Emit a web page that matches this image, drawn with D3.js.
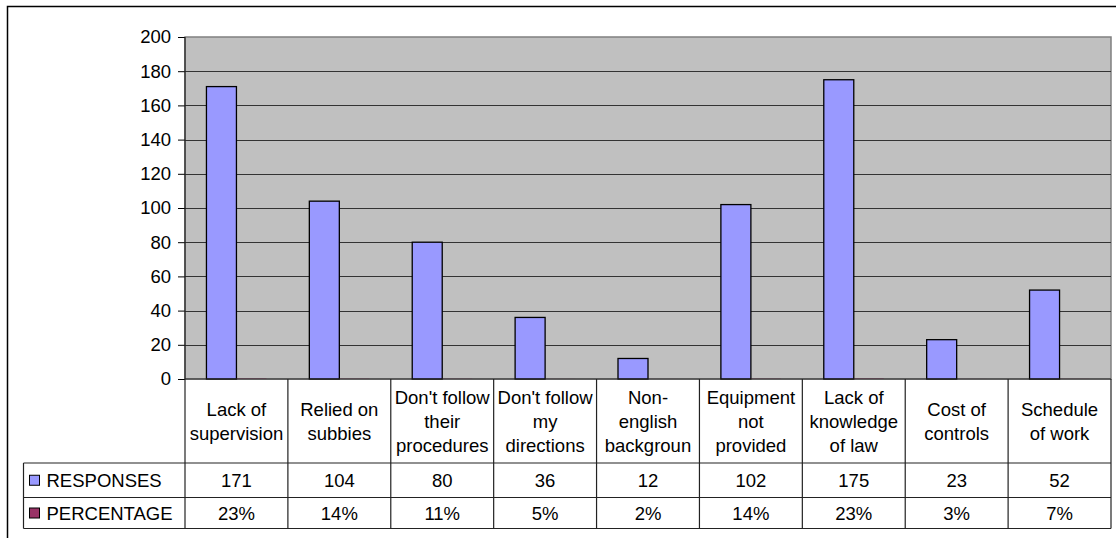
<!DOCTYPE html>
<html>
<head>
<meta charset="utf-8">
<script src="https://cdn.jsdelivr.net/npm/d3@7"></script>
<style>
  body { margin: 0; background: #fff; }
  svg { display: block; font-family: "Liberation Sans", Arial, sans-serif; }
  .axis text { font-size: 18.5px; fill: #000; }
  .axis line, .axis path { stroke: #000; }
</style>
</head>
<body>
<svg width="1116" height="538"></svg>
<script>
// chart data
const categories = [
  ["Lack of", "supervision"],
  ["Relied on", "subbies"],
  ["Don't follow", "their", "procedures"],
  ["Don't follow", "my", "directions"],
  ["Non-", "english", "backgroun"],
  ["Equipment", "not", "provided"],
  ["Lack of", "knowledge", "of law"],
  ["Cost of", "controls"],
  ["Schedule", "of work"]
];
const responses = [171, 104, 80, 36, 12, 102, 175, 23, 52];
const percentage = [0.23, 0.14, 0.11, 0.05, 0.02, 0.14, 0.23, 0.03, 0.07];
const yTicks = [0, 20, 40, 60, 80, 100, 120, 140, 160, 180, 200];
const seriesNames = ["RESPONSES", "PERCENTAGE"];
const seriesColors = ["#9999FF", "#993366"];

const fontSize = "18.5px";
const svg = d3.select("svg");

// outer frame
svg.append("rect")
  .attr("x", 7.5).attr("y", 6.5)
  .attr("width", 1130).attr("height", 560)
  .attr("fill", "#fff")
  .attr("stroke", "#000")
  .attr("stroke-width", 1.5);

const plotLeft = 185, plotRight = 1111, plotTop = 37, base = 379;
const rowCat = 463, rowResp = 497.5, rowPct = 528.5, legendLeft = 23.5;

const x = d3.scaleBand()
  .domain(d3.range(categories.length))
  .range([plotLeft, plotRight]);

const xSub = d3.scaleBand()
  .domain([0, 1])
  .range([0, x.bandwidth()])
  .paddingOuter(0.715);

const y = d3.scaleLinear()
  .domain([0, 200])
  .range([base, plotTop]);

// plot area
svg.append("rect")
  .attr("x", plotLeft).attr("y", plotTop)
  .attr("width", plotRight - plotLeft).attr("height", base - plotTop)
  .attr("fill", "#C0C0C0")
  .attr("stroke", "#808080")
  .attr("stroke-width", 1.5);

// grid
svg.append("g")
  .selectAll("line")
  .data(yTicks.filter(d => d > 0 && d < 200))
  .join("line")
  .attr("x1", plotLeft).attr("x2", plotRight)
  .attr("y1", d => Math.round(y(d)) + 0.5)
  .attr("y2", d => Math.round(y(d)) + 0.5)
  .attr("stroke", "#333")
  .attr("stroke-width", 1.2);

// bars
const series = [responses, percentage];
series.forEach((vals, s) => {
  svg.append("g")
    .selectAll("rect")
    .data(vals)
    .join("rect")
    .attr("x", (d, i) => x(i) + xSub(s))
    .attr("y", d => y(d))
    .attr("width", xSub.bandwidth())
    .attr("height", d => base - y(d))
    .attr("fill", seriesColors[s])
    .attr("stroke", "#000")
    .attr("stroke-width", s === 0 ? 1.3 : 0);
});

// y axis
svg.append("g")
  .attr("class", "axis")
  .attr("transform", `translate(${plotLeft},0)`)
  .call(d3.axisLeft(y).tickValues(yTicks).tickSize(7).tickSizeOuter(0).tickPadding(7))
  .call(g => g.select(".domain").remove());

// data table lines
const tbl = svg.append("g").attr("stroke", "#222").attr("stroke-width", 1.2);
tbl.append("line").attr("x1", plotLeft).attr("x2", plotRight).attr("y1", base).attr("y2", base);
[rowCat, rowResp, rowPct].forEach(yy => {
  tbl.append("line").attr("x1", legendLeft).attr("x2", plotRight).attr("y1", yy).attr("y2", yy);
});
tbl.append("line").attr("x1", legendLeft).attr("x2", legendLeft).attr("y1", rowCat).attr("y2", rowPct);
tbl.append("line").attr("x1", plotLeft).attr("x2", plotLeft).attr("y1", plotTop).attr("y2", rowPct);
categories.forEach((c, i) => {
  tbl.append("line")
    .attr("x1", x(i) + x.bandwidth()).attr("x2", x(i) + x.bandwidth())
    .attr("y1", base).attr("y2", rowPct);
});

// category labels
const lineH = 23.8;
const catG = svg.append("g")
  .attr("font-size", fontSize)
  .attr("text-anchor", "middle");
categories.forEach((lines, i) => {
  const cy = (base + rowCat) / 2 - (lines.length - 1) * lineH / 2;
  const t = catG.append("text")
    .attr("x", x(i) + x.bandwidth() / 2)
    .attr("y", cy)
    .attr("dominant-baseline", "central");
  lines.forEach((ln, k) => {
    t.append("tspan")
      .attr("x", x(i) + x.bandwidth() / 2)
      .attr("y", cy + k * lineH)
      .text(ln);
  });
});

// table values
const rows = [
  { vals: responses.map(String), cy: (rowCat + rowResp) / 2 },
  { vals: percentage.map(d => Math.round(d * 100) + "%"), cy: (rowResp + rowPct) / 2 }
];
rows.forEach((r, s) => {
  svg.append("g")
    .selectAll("text")
    .data(r.vals)
    .join("text")
    .attr("x", (d, i) => x(i) + x.bandwidth() / 2)
    .attr("y", r.cy)
    .attr("text-anchor", "middle")
    .attr("dominant-baseline", "central")
    .attr("font-size", fontSize)
    .text(d => d);

  // legend keys
  svg.append("rect")
    .attr("x", 29.5).attr("y", r.cy - 5)
    .attr("width", 10).attr("height", 10)
    .attr("fill", seriesColors[s])
    .attr("stroke", "#000")
    .attr("stroke-width", 1);
  svg.append("text")
    .attr("x", 46.5)
    .attr("y", r.cy)
    .attr("dominant-baseline", "central")
    .attr("font-size", fontSize)
    .text(seriesNames[s]);
});
</script>
</body>
</html>
